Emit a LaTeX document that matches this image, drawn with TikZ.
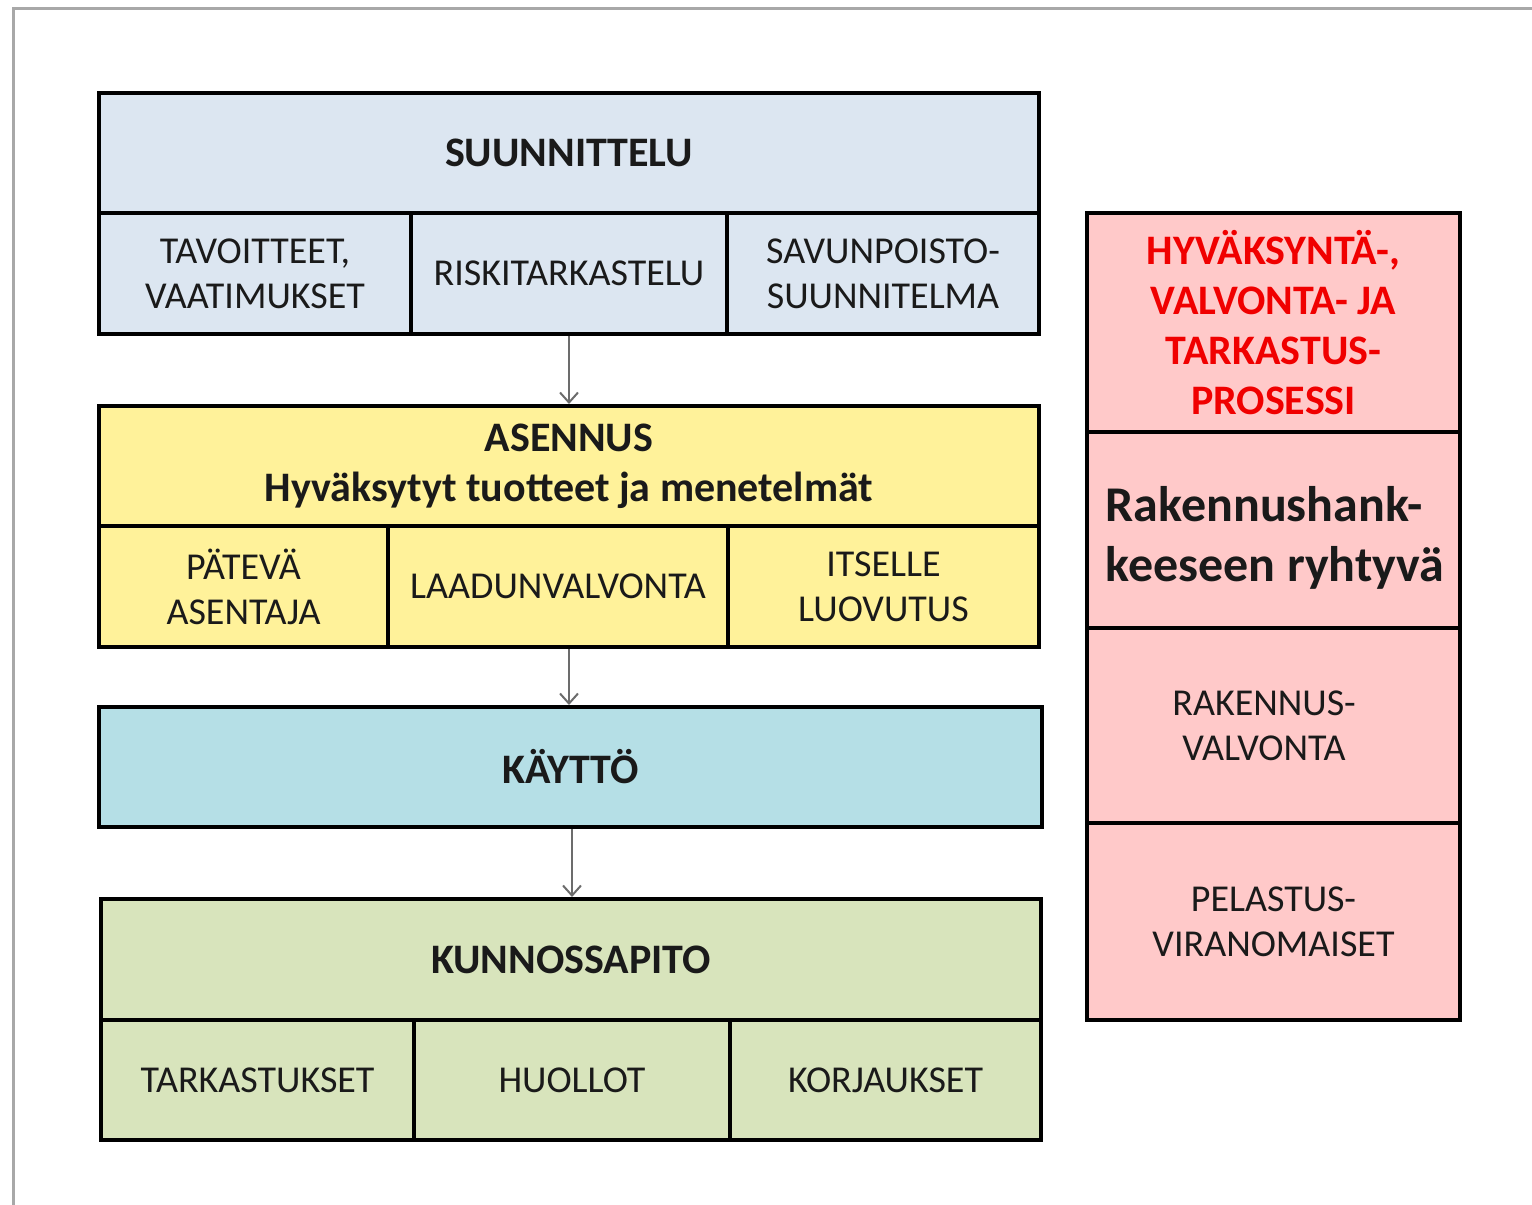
\documentclass[tikz,border=0pt]{standalone}
\usepackage{fontspec}
\setmainfont{Carlito}
\usetikzlibrary{arrows.meta}
\definecolor{suun}{HTML}{DCE6F1}
\definecolor{asen}{HTML}{FFF29A}
\definecolor{kay}{HTML}{B5DFE6}
\definecolor{kun}{HTML}{D8E4BC}
\definecolor{pun}{HTML}{FFC9C9}
\definecolor{txt}{HTML}{1A1A1A}
\definecolor{red0}{HTML}{F00000}
\definecolor{frm}{HTML}{A8A8A8}
\tikzset{
  cell/.style={draw=black, line width=2pt, inner sep=0pt, align=center, text=txt,
    font=\fontsize{19}{22.5}\selectfont},
  head/.style={cell, font=\fontsize{21}{25}\bfseries\selectfont},
  bx/.style n args={2}{minimum width=#1*0.5pt, minimum height=#2*0.5pt},
  arr/.style={draw=gray!85!black, line width=1pt, -{Straight Barb[length=5pt,width=9pt,line width=1pt]}},
}
\begin{document}
\begin{tikzpicture}[x=0.5pt,y=-0.5pt]
\useasboundingbox (0,0) rectangle (1532,1205);
\draw[frm, line width=1.5pt] (13,1210) -- (13,8) -- (1540,8);
% SUUNNITTELU
\node[head, fill=suun, bx={940}{120}] (s) at (569,153) {SUUNNITTELU};
\node[cell, fill=suun, bx={312}{121}] (s1) at (255,273.5) {TAVOITTEET,\\VAATIMUKSET};
\node[cell, fill=suun, bx={316}{121}] (s2) at (569,273.5) {RISKITARKASTELU};
\node[cell, fill=suun, bx={312}{121}] (s3) at (883,273.5) {SAVUNPOISTO-\\SUUNNITELMA};
% ASENNUS
\node[head, fill=asen, bx={940}{120}] (a) at (569,466) {ASENNUS\\Hyväksytyt tuotteet ja menetelmät};
\node[cell, fill=asen, bx={289}{121}] (a1) at (243.5,586.5) {PÄTEVÄ\\ASENTAJA};
\node[cell, fill=asen, bx={340}{121}] (a2) at (558,586.5) {LAADUNVALVONTA};
\node[cell, fill=asen, bx={311}{121}] (a3) at (883.5,586.5) {ITSELLE\\LUOVUTUS};
% KAYTTO
\node[head, fill=kay, bx={943}{120}] (k) at (570.5,767) {KÄYTTÖ};
% KUNNOSSAPITO
\node[head, fill=kun, bx={940}{121}] (ku) at (571,959.5) {KUNNOSSAPITO};
\node[cell, fill=kun, bx={313}{120}] (k1) at (257.5,1080) {TARKASTUKSET};
\node[cell, fill=kun, bx={316}{120}] (k2) at (572,1080) {HUOLLOT};
\node[cell, fill=kun, bx={311}{120}] (k3) at (885.5,1080) {KORJAUKSET};
% right column
\node[head, fill=pun, text=red0, bx={373}{219}] (r1) at (1273.5,322.5) {HYVÄKSYNTÄ-,\\VALVONTA- JA\\TARKASTUS-\\PROSESSI};
\node[cell, fill=pun, bx={373}{196}] (r2) at (1273.5,530) {};
\node[align=left, text=txt, inner sep=0pt, font=\fontsize{25}{30}\bfseries\selectfont] (r2t) at (1275,538) {Rakennushank-\\keeseen ryhtyvä};
\node[cell, fill=pun, bx={373}{195}] (r3) at (1273.5,725.5) {};
\node[cell, draw=none, text=txt] (r3t) at (1264,725.5) {RAKENNUS-\\VALVONTA};
\node[cell, fill=pun, bx={373}{197}] (r4) at (1273.5,921.5) {PELASTUS-\\VIRANOMAISET};
% arrows
\draw[arr] (s2.south) -- (a.north);
\draw[arr] (a.south |- a2.south) -- (a.south |- k.north);
\draw[arr] (k.south -| k2) -- (k2 |- ku.north);
\end{tikzpicture}
\end{document}
